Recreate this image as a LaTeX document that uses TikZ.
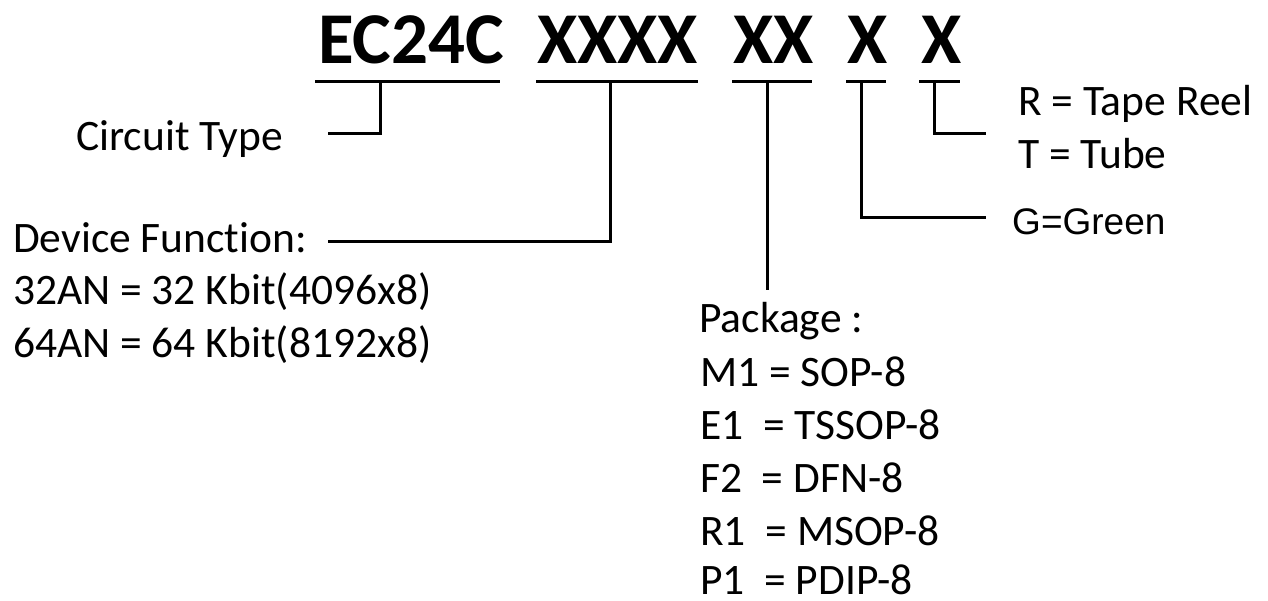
\documentclass[tikz,border=0pt]{standalone}
\usepackage{fontspec}
\setmainfont{Carlito}[Ligatures=NoCommon]
\newfontfamily\arialfont{Liberation Sans}

\tikzset{
  lbl/.style={anchor=base west, inner sep=0pt, font=\fontsize{43.5}{52}\selectfont},
  code/.style={anchor=base west, inner sep=0pt, font=\fontsize{73}{80}\selectfont\bfseries},
  bar/.style={line width=3pt},
  link/.style={line width=3pt}
}

\begin{document}
\begin{tikzpicture}[x=1pt, y=-1pt]
    \useasboundingbox (0,0) rectangle (1268,600);

    % part number
    \node[code] (ec) at (318,63) {EC24C};
    \node[code] (fn) at (537,63) {XXXX};
    \node[code] (pk) at (733,63) {XX};
    \node[code] (gr) at (847,63) {X};
    \node[code] (tp) at (921,63) {X};
    \draw[bar] (315,81) -- (500,81);
    \draw[bar] (536,81) -- (698,81);
    \draw[bar] (732,81) -- (812,81);
    \draw[bar] (846,81) -- (886,81);
    \draw[bar] (919,81) -- (960,81);

    % labels
    \node[lbl] (ct) at (76,150) {Circuit Type};
    \node[lbl] (df) at (13,252) {Device Function:};
    \node[lbl] (df1) at (13,304) {32AN = 32 Kbit(4096x8)};
    \node[lbl] (df2) at (13,357) {64AN = 64 Kbit(8192x8)};
    \node[lbl] (pg) at (699,332) {Package :};
    \node[lbl] (pg1) at (700,386) {M1 = SOP-8};
    \node[lbl] (pg2) at (700,439) {E1\ \ = TSSOP-8};
    \node[lbl] (pg3) at (700,492) {F2\ \ = DFN-8};
    \node[lbl] (pg4) at (700,545) {R1\ \ = MSOP-8};
    \node[lbl] (pg5) at (700,594) {P1\ \ = PDIP-8};
    \node[lbl, font=\fontsize{37}{42}\arialfont] (gn) at (1012,234) {G=Green};
    \node[lbl] (tr) at (1018,115) {R = Tape Reel};
    \node[lbl] (tb) at (1018,168) {T = Tube};

    % leader lines
    \coordinate (ec tap) at (380,81);
    \coordinate (fn tap) at (610,81);
    \coordinate (pk tap) at (767,81);
    \coordinate (gr tap) at (861,81);
    \coordinate (tp tap) at (934,81);
    \coordinate (ct end) at (328,133);
    \coordinate (df end) at (328,241);
    \coordinate (pg end) at (767,290);
    \coordinate (gn end) at (986,217);
    \coordinate (tp end) at (986,133);
    \draw[link] (ec tap) |- (ct end);
    \draw[link] (fn tap) |- (df end);
    \draw[link] (pk tap) -- (pg end);
    \draw[link] (gr tap) |- (gn end);
    \draw[link] (tp tap) |- (tp end);
\end{tikzpicture}
\end{document}
